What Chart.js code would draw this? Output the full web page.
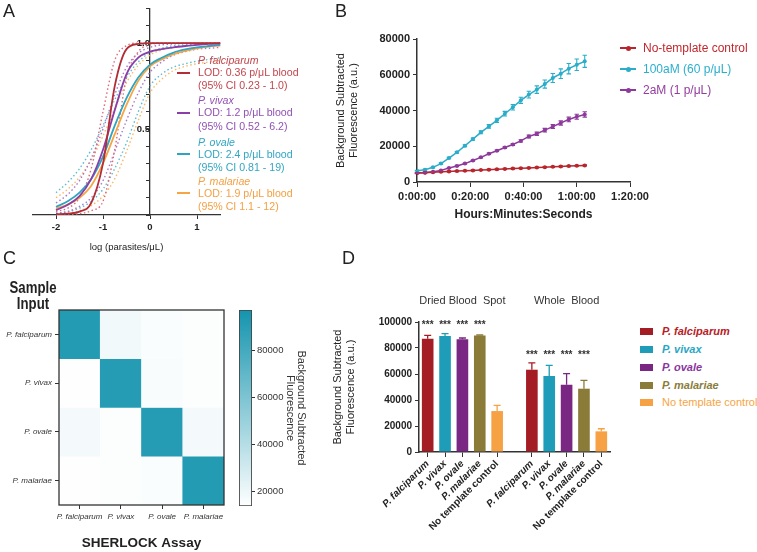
<!DOCTYPE html>
<html>
<head>
<meta charset="utf-8">
<title>SHERLOCK malaria panels</title>
<script src="https://cdn.jsdelivr.net/npm/chart.js@4.4.1/dist/chart.umd.min.js"></script>
<style>
  body { margin: 0; background: #fff; }
  #page { position: relative; width: 757px; height: 552px; overflow: hidden;
          font-family: "Liberation Sans", Arial, sans-serif; color: #222; }
  #page canvas { position: absolute; }
  .letter { position: absolute; font-size: 18px; line-height: 20px; }
  .lgA { position: absolute; left: 198px; font-size: 10.6px; line-height: 13px; white-space: pre; }
  .swA { position: absolute; left: 177px; width: 13px; height: 2px; }
  .lgB { position: absolute; left: 643px; font-size: 12px; line-height: 14px; white-space: pre; }
  .lnB { position: absolute; left: 620px; width: 16px; height: 2px; }
  .dtB { position: absolute; left: 626px; width: 5px; height: 5px; border-radius: 50%; }
  .lgD { position: absolute; left: 662px; font-size: 11px; line-height: 13px; white-space: pre; font-weight: bold; font-style: italic; }
  .bxD { position: absolute; left: 640px; width: 13px; height: 7px; }
  .head { position: absolute; font-weight: bold; font-size: 16.5px; line-height: 16px; text-align: center;
          transform: scaleX(0.8); transform-origin: center; }
</style>
</head>
<body>
<div id="page">
  <canvas id="chartA" width="236" height="262" style="left:0;top:0"></canvas>
  <canvas id="chartB" width="335" height="206" style="left:325px;top:20px"></canvas>
  <canvas id="chartC" width="232" height="252" style="left:0;top:300px"></canvas>
  <canvas id="chartCbar" width="76" height="216" style="left:232px;top:300px"></canvas>
  <canvas id="chartD" width="315" height="255" style="left:325px;top:290px"></canvas>

  <div class="letter" style="left:3px;top:1px">A</div>
  <div class="letter" style="left:335px;top:1px">B</div>
  <div class="letter" style="left:3px;top:248px">C</div>
  <div class="letter" style="left:342px;top:248px">D</div>

  <!-- legend A -->
  <div class="lgA" style="top:53.5px;color:#c2464d;font-style:italic">P. falciparum</div>
  <div class="swA" style="top:71.5px;background:#b22d35"></div>
  <div class="lgA" style="top:66px;color:#c2464d">LOD: 0.36 p/μL blood</div>
  <div class="lgA" style="top:78.5px;color:#c2464d">(95% CI 0.23 - 1.0)</div>
  <div class="lgA" style="top:93.5px;color:#9251b3;font-style:italic">P. vivax</div>
  <div class="swA" style="top:111.5px;background:#8a3ea8"></div>
  <div class="lgA" style="top:106px;color:#9251b3">LOD: 1.2 p/μL blood</div>
  <div class="lgA" style="top:119.5px;color:#9251b3">(95% CI 0.52 - 6.2)</div>
  <div class="lgA" style="top:135.5px;color:#31a6c1;font-style:italic">P. ovale</div>
  <div class="swA" style="top:153px;background:#2ea4c0"></div>
  <div class="lgA" style="top:147.5px;color:#31a6c1">LOD: 2.4 p/μL blood</div>
  <div class="lgA" style="top:160.5px;color:#31a6c1">(95% CI 0.81 - 19)</div>
  <div class="lgA" style="top:174.5px;color:#f4a043;font-style:italic">P. malariae</div>
  <div class="swA" style="top:192px;background:#f6a546"></div>
  <div class="lgA" style="top:186.5px;color:#f4a043">LOD: 1.9 p/μL blood</div>
  <div class="lgA" style="top:199.5px;color:#f4a043">(95% CI 1.1 - 12)</div>

  <!-- legend B -->
  <div class="lnB" style="top:47px;background:#b8262d"></div><div class="dtB" style="top:45.5px;background:#b8262d"></div>
  <div class="lgB" style="top:41px;color:#c0282e">No-template control</div>
  <div class="lnB" style="top:68px;background:#2badc9"></div><div class="dtB" style="top:66.5px;background:#2badc9"></div>
  <div class="lgB" style="top:62px;color:#2ab0cc">100aM (60 p/μL)</div>
  <div class="lnB" style="top:89px;background:#8e3a9c"></div><div class="dtB" style="top:87.5px;background:#8e3a9c"></div>
  <div class="lgB" style="top:83px;color:#943d9e">2aM (1 p/μL)</div>

  <!-- C header -->
  <div class="head" style="left:0;top:279px;width:66px">Sample<br>Input</div>

  <!-- legend D -->
  <div class="bxD" style="top:327.5px;background:#a51d24"></div>
  <div class="lgD" style="top:324.5px;color:#b82025">P. falciparum</div>
  <div class="bxD" style="top:345.5px;background:#1e9cb8"></div>
  <div class="lgD" style="top:342.5px;color:#2aa6c6">P. vivax</div>
  <div class="bxD" style="top:363.5px;background:#7a2683"></div>
  <div class="lgD" style="top:360.5px;color:#8a35a0">P. ovale</div>
  <div class="bxD" style="top:381.5px;background:#8a7c38"></div>
  <div class="lgD" style="top:378.5px;color:#8a7d3b">P. malariae</div>
  <div class="bxD" style="top:398.5px;background:#f6a244"></div>
  <div class="lgD" style="top:395.5px;color:#f7a545;font-weight:normal;font-style:normal">No template control</div>
</div>

<script>
// ---- Panel A: detection curves, fraction vs log(parasites/uL)
const A_X = [-2, -1.75, -1.5, -1.25, -1, -0.75, -0.5, -0.25, 0, 0.25, 0.5, 0.75, 1, 1.25, 1.5];
const A_XTICKS = [-2, -1, 0, 1];
const A_FAL    = [0.005, 0.008, 0.02, 0.07, 0.3, 0.75, 0.965, 0.995, 1, 1, 1, 1, 1, 1, 1];
const A_FAL_LO = [0, 0.002, 0.008, 0.025, 0.08, 0.38, 0.8, 0.95, 0.99, 1, 1, 1, 1, 1, 1];
const A_FAL_HI = [0.02, 0.04, 0.1, 0.27, 0.6, 0.9, 0.985, 1, 1, 1, 1, 1, 1, 1, 1];
const A_VIV    = [0.028, 0.06, 0.11, 0.21, 0.38, 0.61, 0.82, 0.915, 0.95, 0.965, 0.975, 0.983, 0.99, 0.995, 0.998];
const A_VIV_LO = [0.01, 0.02, 0.05, 0.1, 0.2, 0.37, 0.55, 0.71, 0.83, 0.89, 0.93, 0.95, 0.965, 0.97, 0.975];
const A_VIV_HI = [0.07, 0.12, 0.2, 0.33, 0.5, 0.7, 0.86, 0.94, 0.975, 0.99, 0.995, 1, 1, 1, 1];
const A_OVA    = [0.047, 0.08, 0.13, 0.21, 0.34, 0.52, 0.68, 0.8, 0.875, 0.915, 0.945, 0.963, 0.975, 0.983, 0.99];
const A_OVA_LO = [0.01, 0.02, 0.04, 0.08, 0.15, 0.27, 0.42, 0.6, 0.75, 0.82, 0.86, 0.88, 0.895, 0.905, 0.915];
const A_OVA_HI = [0.13, 0.19, 0.27, 0.38, 0.52, 0.67, 0.8, 0.89, 0.945, 0.97, 0.985, 0.99, 0.995, 1, 1];
const A_MAL    = [0.037, 0.06, 0.1, 0.17, 0.3, 0.47, 0.64, 0.78, 0.865, 0.905, 0.935, 0.955, 0.97, 0.98, 0.985];
const A_MAL_LO = [0.005, 0.012, 0.025, 0.055, 0.11, 0.21, 0.37, 0.55, 0.71, 0.79, 0.84, 0.865, 0.88, 0.89, 0.9];
const A_MAL_HI = [0.1, 0.15, 0.22, 0.32, 0.46, 0.62, 0.77, 0.87, 0.93, 0.96, 0.975, 0.985, 0.99, 0.995, 1];

// ---- Panel B: fluorescence over time (minutes)
const B_TIME = [0, 3, 6, 9, 12, 15, 18, 21, 24, 27, 30, 33, 36, 39, 42, 45, 48, 51, 54, 57, 60, 63];
const B_NTC     = [5000, 5200, 5500, 5700, 5900, 6100, 6300, 6500, 6700, 6900, 7100, 7300, 7500, 7700, 7900, 8100, 8300, 8500, 8700, 8900, 9100, 9300];
const B_NTC_ERR = [300, 300, 300, 300, 300, 300, 300, 300, 300, 300, 300, 300, 300, 300, 300, 300, 300, 300, 300, 300, 300, 300];
const B_100     = [6300, 6900, 8200, 10300, 13400, 16600, 20300, 24000, 27800, 31100, 34500, 38200, 41800, 45700, 48900, 51700, 54800, 58200, 60600, 63400, 65600, 67500];
const B_100_ERR = [300, 300, 300, 400, 400, 500, 500, 600, 800, 1000, 1200, 1300, 1500, 1700, 1900, 2100, 2300, 2500, 2700, 2900, 3200, 3400];
const B_2       = [5000, 5300, 5700, 6500, 7800, 9000, 10300, 12000, 13800, 15800, 17500, 19300, 21000, 23000, 25500, 27000, 29000, 31000, 33000, 35000, 36500, 37800];
const B_2_ERR   = [200, 200, 200, 200, 200, 300, 300, 300, 300, 400, 400, 500, 500, 600, 800, 900, 1000, 1100, 1200, 1300, 1400, 1500];

// ---- Panel C: cross-reactivity heatmap (rows = sample input, cols = assay)
const C_SPECIES = ['P. falciparum', 'P. vivax', 'P. ovale', 'P. malariae'];
const C_FAL_ROW = [92000, 18500, 15500, 14500];
const C_VIV_ROW = [14000, 91000, 16000, 14500];
const C_OVA_ROW = [17500, 14500, 91000, 17500];
const C_MAL_ROW = [14000, 14500, 15500, 92000];
const C_MIN = 13600, C_MAX = 97400;
const C_TICKS = [20000, 40000, 60000, 80000];

// ---- Panel D: end-point fluorescence
const D_SERIES = ['P. falciparum', 'P. vivax', 'P. ovale', 'P. malariae', 'No template control'];
const D_GROUPS = ['Dried Blood  Spot', 'Whole  Blood'];
const D_DBS    = [87200, 89200, 86700, 89700, 31500];
const D_DBS_SD = [2500, 1800, 1000, 300, 4400];
const D_WB     = [63300, 58500, 51800, 48700, 15900];
const D_WB_SD  = [5200, 8200, 8500, 6400, 2000];

Chart.defaults.font.family = '"Liberation Sans", Arial, sans-serif';
Chart.defaults.color = '#222';
Chart.defaults.animation = false;
Chart.defaults.responsive = false;
Chart.defaults.plugins.legend.display = false;
Chart.defaults.plugins.tooltip.enabled = false;

const AXIS = '#333';
const plain = v => String(v);   // no thousands separator

// error bars from dataset.err
const errorBars = {
  id: 'errorBars',
  afterDatasetsDraw(chart, args, opts) {
    const ctx = chart.ctx;
    chart.data.datasets.forEach((ds, i) => {
      if (!ds.err) return;
      const meta = chart.getDatasetMeta(i);
      const ys = chart.scales[meta.yAxisID];
      ctx.save();
      ctx.strokeStyle = ds.borderColor;
      ctx.lineWidth = opts.width || 1.2;
      meta.data.forEach((el, j) => {
        const raw = ds.data[j];
        const e = ds.err[j];
        if (raw == null || e == null) return;
        const v = typeof raw === 'object' ? raw.y : raw;
        const top = ys.getPixelForValue(v + e);
        const bot = opts.upOnly ? ys.getPixelForValue(v) : ys.getPixelForValue(v - e);
        const c = opts.cap || 2.5;
        ctx.beginPath();
        ctx.moveTo(el.x, top); ctx.lineTo(el.x, bot);
        ctx.moveTo(el.x - c, top); ctx.lineTo(el.x + c, top);
        if (!opts.upOnly) { ctx.moveTo(el.x - c, bot); ctx.lineTo(el.x + c, bot); }
        ctx.stroke();
      });
      ctx.restore();
    });
  }
};

// ---------- A ----------
const A_COLORS = ['#b22d35', '#8a3ea8', '#2ea4c0', '#f6a546'];
const A_DOT_COLORS = ['#dc6a76', '#a877c8', '#5cbcd4', '#f8b96a'];
const A_FIT = [A_FAL, A_VIV, A_OVA, A_MAL];
const A_LO = [A_FAL_LO, A_VIV_LO, A_OVA_LO, A_MAL_LO];
const A_HI = [A_FAL_HI, A_VIV_HI, A_OVA_HI, A_MAL_HI];
const aPts = ys => A_X.map((x, i) => ({x: x, y: ys[i]}));
const aSets = [];
A_FIT.forEach((ys, k) => aSets.push({data: aPts(ys), borderColor: A_COLORS[k], borderWidth: 1.8,
  pointRadius: 0, cubicInterpolationMode: 'monotone'}));
A_FIT.forEach((ys, k) => {
  [A_LO[k], A_HI[k]].forEach(b => aSets.push({data: aPts(b), borderColor: A_DOT_COLORS[k], borderWidth: 1.4,
    borderDash: [1.5, 2.5], pointRadius: 0, cubicInterpolationMode: 'monotone'}));
});

new Chart(document.getElementById('chartA'), {
  type: 'line',
  data: {datasets: aSets},
  options: {
    layout: {padding: {left: 32.5, right: 15.5, top: 1.4, bottom: 0}},
    scales: {
      x: {type: 'linear', min: -2.5, max: 1.5,
        afterBuildTicks: s => { s.ticks = A_XTICKS.map(v => ({value: v})); },
        afterFit: s => { s.height = 47; },
        ticks: {font: {size: 9.5, weight: 'bold'}, padding: 3, autoSkip: false, maxRotation: 0},
        grid: {drawOnChartArea: false, tickLength: 4, color: AXIS},
        border: {color: AXIS, width: 1.3},
        title: {display: true, text: 'log (parasites/μL)', font: {size: 9.5}, padding: {top: 0, bottom: 9}}
      },
      y: {type: 'linear', min: 0, max: 1.2, position: {x: 0},
        ticks: {stepSize: 0.1, autoSkip: false, font: {size: 9.5, weight: 'bold'},
          callback: v => Math.abs(v - 0.5) < 1e-6 ? '0.5' : (Math.abs(v - 1) < 1e-6 ? '1.0' : '')},
        grid: {drawOnChartArea: false, tickLength: 3, color: AXIS},
        border: {color: AXIS, width: 1.3}
      }
    }
  }
});

// ---------- B ----------
const bPts = ys => B_TIME.map((t, i) => ({x: t, y: ys[i]}));
const hms = m => Math.floor(m / 60) + ':' + String(m % 60).padStart(2, '0') + ':00';
const bSet = (label, ys, err, color) => ({label: label, data: bPts(ys), err: err, borderColor: color,
  backgroundColor: color, borderWidth: 1.5, pointRadius: 2, pointBorderWidth: 0, tension: 0});

new Chart(document.getElementById('chartB'), {
  type: 'line',
  data: {datasets: [
    bSet('No-template control', B_NTC, B_NTC_ERR, '#b8262d'),
    bSet('100aM (60 p/μL)', B_100, B_100_ERR, '#2badc9'),
    bSet('2aM (1 p/μL)', B_2, B_2_ERR, '#8e3a9c')
  ]},
  plugins: [errorBars],
  options: {
    layout: {padding: {left: 9.4, right: 30, top: 19, bottom: 0}},
    plugins: {errorBars: {width: 1.1, cap: 2.2}},
    scales: {
      x: {type: 'linear', min: 0, max: 80,
        afterFit: s => { s.height = 44; },
        ticks: {stepSize: 20, callback: v => hms(v), font: {size: 11, weight: 'bold'}, padding: 3, maxRotation: 0},
        grid: {drawOnChartArea: false, tickLength: 5, color: AXIS},
        border: {color: AXIS, width: 1.5},
        title: {display: true, text: 'Hours:Minutes:Seconds', font: {size: 12, weight: 'bold'}, padding: {top: 0, bottom: 4}}
      },
      y: {min: 0, max: 80000,
        afterFit: s => { s.width = 82.6; },
        ticks: {stepSize: 20000, callback: plain, font: {size: 11, weight: 'bold'}, padding: 3},
        grid: {drawOnChartArea: false, tickLength: 4, color: AXIS},
        border: {color: AXIS, width: 1.5},
        title: {display: true, text: ['Background Subtracted', 'Fluorescence (a.u.)'], font: {size: 11}, padding: {top: 0, bottom: 0}}
      }
    }
  }
});

// ---------- C ----------
const TEAL = [20, 148, 174];
const heatColor = v => {
  const f = Math.max(0, Math.min(1, (v - C_MIN) / (C_MAX - C_MIN)));
  return 'rgb(' + TEAL.map(t => Math.round(255 + (t - 255) * f)).join(',') + ')';
};
const frame = {
  id: 'frame',
  afterDatasetsDraw(chart) {
    const a = chart.chartArea, ctx = chart.ctx;
    ctx.save(); ctx.strokeStyle = AXIS; ctx.lineWidth = 1.3;
    ctx.strokeRect(a.left, a.top, a.right - a.left, a.bottom - a.top);
    ctx.restore();
  }
};
const C_ROWS = [C_FAL_ROW, C_VIV_ROW, C_OVA_ROW, C_MAL_ROW];

new Chart(document.getElementById('chartC'), {
  type: 'bar',
  data: {
    labels: C_SPECIES,
    datasets: C_ROWS.map((row, r) => ({label: C_SPECIES[r], data: row.map(() => 1), backgroundColor: row.map(heatColor),
      yAxisID: 'yv', barPercentage: 1, categoryPercentage: 1, borderWidth: 0}))
  },
  plugins: [frame],
  options: {
    layout: {padding: {left: 0, right: 8, top: 10, bottom: 0}},
    scales: {
      x: {stacked: true,
        afterFit: s => { s.height = 47; },
        ticks: {font: {size: 8, style: 'italic'}, color: '#333', padding: 3, autoSkip: false, maxRotation: 0, minRotation: 0},
        grid: {offset: false, drawOnChartArea: false, tickLength: 4, color: AXIS},
        border: {display: false},
        title: {display: true, text: 'SHERLOCK Assay', font: {size: 13.5, weight: 'bold'}, padding: {top: 0, bottom: 1}}
      },
      y: {type: 'category', labels: C_SPECIES, offset: true,
        afterFit: s => { s.width = 59; },
        ticks: {font: {size: 8, style: 'italic'}, color: '#333', padding: 3, autoSkip: false},
        grid: {offset: false, drawOnChartArea: false, tickLength: 4, color: AXIS},
        border: {display: false}
      },
      yv: {axis: 'y', type: 'linear', display: false, stacked: true, min: 0, max: 4, reverse: true}
    }
  }
});

new Chart(document.getElementById('chartCbar'), {
  type: 'bar',
  data: {
    labels: [''],
    datasets: [{data: [[C_MIN, C_MAX]], barPercentage: 1, categoryPercentage: 1,
      borderWidth: 1.2, borderColor: '#444', borderSkipped: false,
      backgroundColor: c => {
        const a = c.chart.chartArea;
        if (!a) return heatColor(C_MAX);
        const g = c.chart.ctx.createLinearGradient(0, a.bottom, 0, a.top);
        g.addColorStop(0, heatColor(C_MIN));
        g.addColorStop(1, heatColor(C_MAX));
        return g;
      }}]
  },
  options: {
    layout: {padding: {left: 7, right: 2, top: 10, bottom: 10}},
    scales: {
      x: {display: false},
      y: {position: 'right', min: C_MIN, max: C_MAX,
        afterBuildTicks: s => { s.ticks = C_TICKS.map(v => ({value: v})); },
        afterFit: s => { s.width = 54; },
        ticks: {font: {size: 9.5}, color: '#333', padding: 2, callback: plain},
        grid: {drawOnChartArea: false, tickLength: 3, color: AXIS},
        border: {display: false},
        title: {display: true, text: ['Background Subtracted', 'Fluorescence'], font: {size: 11, lineHeight: 0.95},
          color: '#333', padding: {top: 0, bottom: 0}}
      }
    }
  }
});

// ---------- D ----------
const D_COLORS = ['#a51d24', '#1e9cb8', '#7a2683', '#8a7c38', '#f6a244'];
const D_LABELS = D_SERIES.concat([''], D_SERIES);
const WB_START = D_SERIES.length + 1;
const dSets = D_SERIES.map((name, i) => {
  const data = D_LABELS.map(() => null), err = D_LABELS.map(() => null);
  data[i] = D_DBS[i]; err[i] = D_DBS_SD[i];
  data[WB_START + i] = D_WB[i]; err[WB_START + i] = D_WB_SD[i];
  return {label: name, data: data, err: err, backgroundColor: D_COLORS[i], borderColor: D_COLORS[i],
    grouped: false, barPercentage: 0.67, categoryPercentage: 1, stars: i < 4};
});

const dAnnot = {
  id: 'dAnnot',
  afterDatasetsDraw(chart) {
    const ctx = chart.ctx, xs = chart.scales.x, ys = chart.scales.y;
    ctx.save();
    ctx.fillStyle = '#333';
    ctx.textAlign = 'center';
    ctx.textBaseline = 'middle';
    [0, WB_START].forEach((start, g) => {
      const mid = (xs.getPixelForValue(start) + xs.getPixelForValue(start + D_SERIES.length - 1)) / 2;
      ctx.font = '11px "Liberation Sans", Arial, sans-serif';
      ctx.fillText(D_GROUPS[g], mid, chart.chartArea.top - 21);
      // stars sit a little above the tallest error bar of the group
      let topPx = Infinity;
      chart.data.datasets.forEach((ds, i) => {
        if (!ds.stars) return;
        const k = start + i;
        topPx = Math.min(topPx, ys.getPixelForValue(ds.data[k] + ds.err[k]));
      });
      ctx.font = 'bold 10px "Liberation Sans", Arial, sans-serif';
      chart.data.datasets.forEach((ds, i) => {
        if (!ds.stars) return;
        ctx.fillText('***', xs.getPixelForValue(start + i), topPx - 8);
      });
    });
    ctx.restore();
  }
};

new Chart(document.getElementById('chartD'), {
  type: 'bar',
  data: {labels: D_LABELS, datasets: dSets},
  plugins: [errorBars, dAnnot],
  options: {
    layout: {padding: {left: 6.4, right: 30, top: 32, bottom: 0}},
    plugins: {errorBars: {width: 1.3, cap: 3.5, upOnly: true}},
    scales: {
      x: {
        afterFit: s => { s.height = 93; },
        ticks: {autoSkip: false, minRotation: 45, maxRotation: 45, padding: 1,
          font: c => ({size: 10, weight: 'bold', style: (c.tick && c.tick.label && c.tick.label.indexOf('P.') === 0) ? 'italic' : 'normal'})},
        grid: {offset: false, drawOnChartArea: false, tickLength: 5,
          color: c => (c.index === D_SERIES.length ? 'rgba(0,0,0,0)' : AXIS)},
        border: {color: AXIS, width: 1.5}
      },
      y: {min: 0, max: 100000,
        afterFit: s => { s.width = 87.6; },
        ticks: {stepSize: 20000, callback: plain, font: {size: 10, weight: 'bold'}, padding: 3},
        grid: {drawOnChartArea: false, tickLength: 4, color: AXIS},
        border: {color: AXIS, width: 1.5},
        title: {display: true, text: ['Background Subtracted', 'Fluorescence (a.u.)'], font: {size: 11}, padding: {top: 0, bottom: 0}}
      }
    }
  }
});
</script>
</body>
</html>
